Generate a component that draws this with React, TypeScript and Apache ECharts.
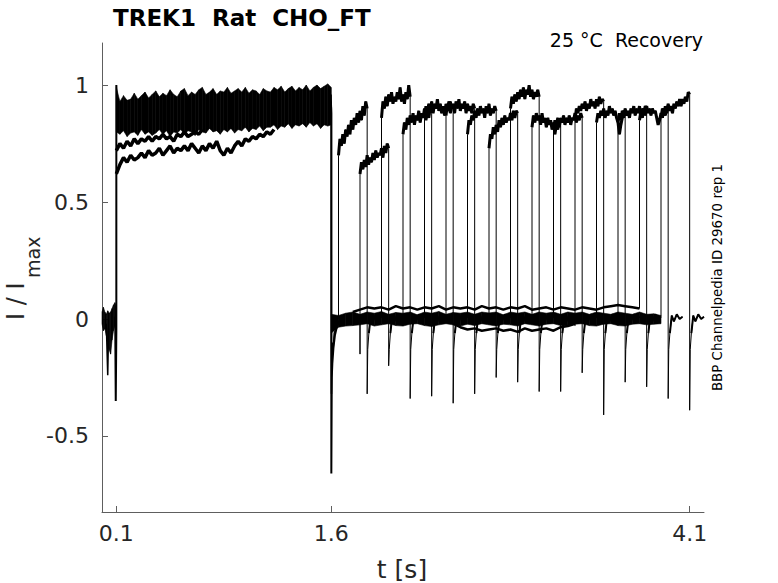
import React, { useEffect, useRef } from 'react';
import * as echarts from 'echarts';

// x ticks / y ticks shown on the axes
const xTicks = [0.1, 1.6, 4.1];
const yTicks = [-0.5, 0, 0.5, 1];

// holding current before the first pulse (0 .. 0.1 s, 10 ms apart)
const preStep = 0.01;
const preBandHi = [0.03, 0.05, 0.03, 0.02, 0.035, 0.025, 0.03, 0.045, 0.06, 0.07, 0.05];
const preBandLo = [-0.02, -0.05, -0.04, -0.07, -0.1, -0.13, -0.15, -0.09, -0.05, -0.03, -0.04];
const preDipTimes = [0.03, 0.04, 0.046];
const preDipValues = [-0.02, -0.24, -0.04];
const onsetTimes = [0.092, 0.096, 0.1, 0.1, 0.104];
const onsetValues = [0.01, -0.35, -0.05, 1.0, 0.93];

// first pulse 0.1 .. 1.6 s, 25 ms apart: dense band and two slower sweeps
const pulse1Start = 0.1;
const pulse1Step = 0.025;
const pulse1Upper = [
  0.99, 0.93, 0.955, 0.935, 0.94, 0.965, 0.94, 0.955, 0.97, 0.945,
  0.96, 0.975, 0.95, 0.965, 0.955, 0.98, 0.96, 0.95, 0.975, 0.985,
  0.955, 0.97, 0.96, 0.98, 0.99, 0.96, 0.97, 0.985, 0.96, 0.975,
  0.97, 0.99, 0.965, 0.975, 0.985, 0.97, 0.99, 0.965, 0.98, 0.975,
  0.96, 0.985, 0.975, 0.97, 0.99, 0.98, 0.995, 0.97, 0.985, 0.995,
  0.975, 0.99, 0.98, 1.0, 0.975, 0.99, 1.0, 0.985, 0.995, 1.005, 0.99,
];
const pulse1Lower = [
  0.8, 0.79, 0.805, 0.78, 0.795, 0.8, 0.785, 0.81, 0.79, 0.8,
  0.785, 0.795, 0.81, 0.79, 0.805, 0.78, 0.8, 0.795, 0.81, 0.79,
  0.805, 0.8, 0.785, 0.81, 0.8, 0.795, 0.815, 0.8, 0.805, 0.79,
  0.81, 0.8, 0.815, 0.795, 0.81, 0.805, 0.82, 0.8, 0.815, 0.81,
  0.825, 0.805, 0.82, 0.82, 0.83, 0.81, 0.825, 0.82, 0.835, 0.815,
  0.83, 0.825, 0.835, 0.82, 0.84, 0.825, 0.835, 0.815, 0.83, 0.825, 0.83,
];
const slowTraceA = [
  0.62, 0.66, 0.69, 0.67, 0.7, 0.68, 0.69, 0.71, 0.69, 0.72,
  0.7, 0.71, 0.73, 0.7, 0.72, 0.74, 0.71, 0.73, 0.72, 0.74,
  0.72, 0.75, 0.73, 0.71, 0.74, 0.72, 0.75, 0.73, 0.76, 0.72,
  0.7, 0.73, 0.71, 0.74, 0.76, 0.74, 0.77, 0.76, 0.78, 0.77,
  0.79, 0.78, 0.8, 0.79, 0.81,
];
const slowTraceB = [
  0.72, 0.75, 0.73, 0.76, 0.74, 0.77, 0.75, 0.77, 0.76, 0.78,
  0.76, 0.78, 0.77, 0.79, 0.77, 0.78, 0.76, 0.79, 0.78, 0.8,
  0.78, 0.79, 0.8, 0.79, 0.81,
];

// end of the first pulse at 1.6 s
const offsetTimes = [1.597, 1.6, 1.6, 1.603, 1.607, 1.615, 1.625, 1.64, 1.66];
const offsetValues = [0.93, 0.88, -0.66, -0.25, -0.19, -0.12, -0.07, -0.03, 0.0];
const offsetTimes2 = [1.598, 1.6, 1.601, 1.606, 1.612, 1.62, 1.635, 1.65];
const offsetValues2 = [0.96, 0.9, -0.32, -0.1, -0.14, -0.06, -0.04, -0.01];

// recovery interval baselines (50 ms apart)
const zeroStart = 1.6;
const zeroStep = 0.05;
const zeroBandHi = [
  0.02, 0.015, 0.025, 0.03, 0.02, 0.03, 0.025, 0.032, 0.02, 0.028,
  0.025, 0.03, 0.018, 0.03, 0.025, 0.032, 0.02, 0.028, 0.025, 0.03,
  0.02, 0.03, 0.026, 0.03, 0.018, 0.03, 0.025, 0.03, 0.02, 0.03,
  0.025, 0.03, 0.02, 0.03, 0.025, 0.03, 0.02, 0.03, 0.025, 0.02,
  0.03, 0.025, 0.02, 0.03, 0.02, 0.022, 0.015,
];
const zeroBandLo = [
  -0.06, -0.035, -0.03, -0.028, -0.025, -0.02, -0.03, -0.025, -0.02, -0.028,
  -0.03, -0.022, -0.02, -0.028, -0.032, -0.025, -0.02, -0.025, -0.03, -0.022,
  -0.028, -0.02, -0.025, -0.03, -0.022, -0.025, -0.03, -0.02, -0.025, -0.03,
  -0.022, -0.02, -0.028, -0.03, -0.022, -0.02, -0.028, -0.03, -0.022, -0.02,
  -0.028, -0.03, -0.022, -0.02, -0.025, -0.022, -0.02,
];
const upperBaseStart = 1.75;
const upperBaseline = [
  0.03, 0.04, 0.05, 0.045, 0.05, 0.04, 0.055, 0.045, 0.05, 0.04,
  0.05, 0.045, 0.055, 0.04, 0.05, 0.045, 0.05, 0.04, 0.055, 0.045,
  0.05, 0.04, 0.05, 0.045, 0.055, 0.04, 0.045, 0.05, 0.04, 0.05,
  0.045, 0.04, 0.05, 0.045, 0.04, 0.05, 0.055, 0.06, 0.055, 0.05, 0.045,
];
const lowerBaseStart = 2.45;
const lowerBaseline = [
  -0.02, -0.035, -0.045, -0.04, -0.05, -0.045, -0.04, -0.05, -0.045,
  -0.055, -0.04, -0.05, -0.045, -0.04, -0.05, -0.035, -0.03, -0.02,
];

// second pulses, one per sweep, values 10 ms apart
const pulse2Starts = [1.65, 1.8, 1.95, 2.1, 2.25, 2.4, 2.55, 2.7, 2.85, 3.0, 3.15, 3.3, 3.45, 3.6, 3.75, 3.9];
const pulse2Ends = [1.85, 2.0, 2.15, 2.3, 2.45, 2.6, 2.75, 2.9, 3.05, 3.2, 3.35, 3.5, 3.65, 3.8, 3.95, 4.1];
const gapLevels = [0.0, 0.01, 0.01, 0.0, 0.01, 0.0, 0.01, 0.0, 0.01, 0.0, 0.01, -0.03, 0.01, 0.0, 0.045, 0.01];
const startDips = [0, -0.15, 0, 0, 0, 0, 0, 0, 0, 0, 0, 0, 0, 0, 0, 0];
const pulse2Values = [
  [0.7, 0.77, 0.74, 0.79, 0.75, 0.81, 0.78, 0.83, 0.79, 0.85, 0.81, 0.86, 0.83, 0.88, 0.84, 0.89, 0.85, 0.91, 0.87, 0.93, 0.9],
  [0.62, 0.67, 0.64, 0.68, 0.65, 0.7, 0.66, 0.69, 0.67, 0.71, 0.68, 0.72, 0.69, 0.71, 0.7, 0.73, 0.69, 0.74, 0.71, 0.75, 0.73],
  [0.86, 0.93, 0.9, 0.95, 0.91, 0.96, 0.93, 0.97, 0.92, 0.95, 0.93, 0.97, 0.94, 0.99, 0.93, 0.96, 0.92, 0.97, 0.94, 1.0, 0.95],
  [0.79, 0.84, 0.81, 0.86, 0.83, 0.87, 0.84, 0.88, 0.83, 0.87, 0.85, 0.89, 0.84, 0.88, 0.86, 0.9, 0.85, 0.89, 0.86, 0.9, 0.88],
  [0.86, 0.91, 0.88, 0.92, 0.89, 0.93, 0.88, 0.92, 0.9, 0.94, 0.89, 0.92, 0.88, 0.91, 0.87, 0.92, 0.89, 0.93, 0.88, 0.91, 0.9],
  [0.87, 0.92, 0.89, 0.93, 0.9, 0.92, 0.88, 0.93, 0.9, 0.94, 0.89, 0.92, 0.9, 0.93, 0.88, 0.92, 0.89, 0.91, 0.88, 0.92, 0.9],
  [0.79, 0.85, 0.83, 0.87, 0.85, 0.89, 0.86, 0.9, 0.87, 0.91, 0.88, 0.9, 0.86, 0.91, 0.88, 0.92, 0.87, 0.9, 0.88, 0.91, 0.89],
  [0.73, 0.79, 0.77, 0.82, 0.79, 0.83, 0.8, 0.85, 0.82, 0.86, 0.83, 0.87, 0.84, 0.86, 0.85, 0.88, 0.85, 0.89, 0.86, 0.89, 0.88],
  [0.9, 0.95, 0.92, 0.96, 0.93, 0.97, 0.94, 0.98, 0.95, 0.99, 0.94, 0.98, 0.96, 1.0, 0.95, 0.98, 0.94, 0.97, 0.95, 0.98, 0.95],
  [0.82, 0.87, 0.84, 0.88, 0.85, 0.87, 0.83, 0.88, 0.84, 0.86, 0.82, 0.86, 0.83, 0.85, 0.81, 0.84, 0.79, 0.83, 0.81, 0.85, 0.84],
  [0.81, 0.85, 0.83, 0.86, 0.82, 0.86, 0.84, 0.87, 0.83, 0.86, 0.84, 0.87, 0.83, 0.86, 0.85, 0.88, 0.84, 0.87, 0.85, 0.88, 0.86],
  [0.85, 0.9, 0.88, 0.91, 0.89, 0.92, 0.9, 0.93, 0.89, 0.92, 0.9, 0.94, 0.91, 0.93, 0.9, 0.94, 0.91, 0.95, 0.92, 0.94, 0.93],
  [0.84, 0.88, 0.86, 0.89, 0.87, 0.9, 0.86, 0.89, 0.87, 0.91, 0.88, 0.9, 0.87, 0.89, 0.86, 0.84, 0.79, 0.83, 0.86, 0.89, 0.88],
  [0.84, 0.88, 0.85, 0.89, 0.86, 0.9, 0.87, 0.89, 0.86, 0.9, 0.88, 0.91, 0.87, 0.9, 0.88, 0.91, 0.87, 0.9, 0.88, 0.91, 0.9],
  [0.85, 0.89, 0.86, 0.9, 0.87, 0.91, 0.88, 0.9, 0.87, 0.9, 0.88, 0.89, 0.86, 0.83, 0.85, 0.88, 0.86, 0.9, 0.87, 0.91, 0.9],
  [0.86, 0.9, 0.87, 0.91, 0.88, 0.92, 0.89, 0.91, 0.88, 0.92, 0.9, 0.93, 0.91, 0.94, 0.91, 0.94, 0.92, 0.95, 0.93, 0.97, 0.96],
];
const tailSpikes = [-0.32, -0.2, -0.34, -0.33, -0.36, -0.32, -0.25, -0.27, -0.31, -0.31, -0.23, -0.41, -0.27, -0.29, -0.34, -0.39];
const tailOffsets = [0.004, 0.012, 0.025, 0.04, 0.06, 0.08, 0.1];
const tailValues = [-0.13, -0.06, 0.015, -0.01, 0.02, 0.0, 0.01];

const sampled = (start: number, step: number, values: number[]) =>
  values.map((v, i) => [start + step * i, v]);
const paired = (times: number[], values: number[]) => times.map((t, i) => [t, values[i]]);

const lineSeries = (data: number[][], width: number) => ({
  type: 'line',
  data,
  showSymbol: false,
  symbol: 'none',
  silent: true,
  z: 3,
  lineStyle: { color: '#000', width },
});

const bandSeries = (start: number, step: number, lo: number[], hi: number[]) => {
  const rows = lo.map((v, i) => [start + step * i, v, hi[i]]);
  return {
    type: 'custom',
    data: rows,
    silent: true,
    z: 2,
    encode: { x: 0, y: [1, 2] },
    renderItem: (params: any, api: any) => {
      const i = params.dataIndex;
      if (i >= rows.length - 1) return null;
      const a = rows[i];
      const b = rows[i + 1];
      return {
        type: 'polygon',
        shape: {
          points: [
            api.coord([a[0], a[2]]),
            api.coord([b[0], b[2]]),
            api.coord([b[0], b[1]]),
            api.coord([a[0], a[1]]),
          ],
        },
        style: { fill: '#000', stroke: '#000', lineWidth: 0.6 },
      };
    },
  };
};

const App: React.FC = () => {
  const chartRef = useRef<HTMLDivElement>(null);

  useEffect(() => {
    if (!chartRef.current) return;
    const chart = echarts.init(chartRef.current, undefined, { renderer: 'svg' });

    const sweeps: any[] = [];
    pulse2Starts.forEach((start, k) => {
      const end = pulse2Ends[k];
      const vals = pulse2Values[k];
      const body = vals.map((v, j) => [start + ((end - start) * j) / (vals.length - 1), v]);
      const pts: number[][] = [[start, gapLevels[k]]];
      if (startDips[k] < 0) pts.push([start, startDips[k]]);
      pts.push(...body);
      pts.push([end, tailSpikes[k]]);
      tailOffsets.forEach((dt, j) => pts.push([end + dt, tailValues[j]]));
      sweeps.push(lineSeries(pts, 1));
      sweeps.push(lineSeries(body, 3));
      sweeps.push(lineSeries(paired(tailOffsets.slice(1).map((dt) => end + dt), tailValues.slice(1)), 2));
    });

    const axisColor = '#5e5e5e';
    const labelStyle = { color: '#262626', fontSize: 22, fontFamily: 'DejaVu Sans' };

    chart.setOption({
      animation: false,
      grid: { left: 102, top: 43, width: 602, height: 469 },
      xAxis: {
        type: 'value',
        min: 0,
        max: 4.2,
        axisLine: { onZero: false, lineStyle: { color: axisColor, width: 1 } },
        axisTick: { inside: true, length: 6, customValues: xTicks, lineStyle: { color: axisColor } },
        axisLabel: { ...labelStyle, margin: 10, customValues: xTicks },
        splitLine: { show: false },
      },
      yAxis: {
        type: 'value',
        min: -0.825,
        max: 1.18,
        axisLine: { show: true, onZero: false, lineStyle: { color: axisColor, width: 1 } },
        axisTick: { show: true, inside: true, length: 6, customValues: yTicks, lineStyle: { color: axisColor } },
        axisLabel: { ...labelStyle, margin: 13, customValues: yTicks },
        splitLine: { show: false },
      },
      graphic: [
        {
          type: 'text',
          x: 113,
          y: 18,
          style: {
            text: 'TREK1  Rat  CHO_FT',
            fontSize: 23,
            fontWeight: 'bold',
            fontFamily: 'DejaVu Sans',
            fill: '#000',
            align: 'left',
            verticalAlign: 'middle',
          },
        },
        {
          type: 'text',
          x: 703,
          y: 40,
          style: {
            text: '25 °C  Recovery',
            fontSize: 19,
            fontFamily: 'DejaVu Sans',
            fill: '#000',
            align: 'right',
            verticalAlign: 'middle',
          },
        },
        {
          type: 'text',
          x: 717,
          y: 277.5,
          rotation: Math.PI / 2,
          style: {
            text: 'BBP Channelpedia ID 29670 rep 1',
            fontSize: 13.4,
            fontFamily: 'DejaVu Sans',
            fill: '#000',
            align: 'center',
            verticalAlign: 'middle',
          },
        },
        {
          type: 'text',
          x: 16,
          y: 320,
          rotation: Math.PI / 2,
          style: {
            text: 'I / I',
            fontSize: 24,
            fontFamily: 'DejaVu Sans',
            fill: '#262626',
            align: 'left',
            verticalAlign: 'middle',
          },
        },
        {
          type: 'text',
          x: 32.5,
          y: 278,
          rotation: Math.PI / 2,
          style: {
            text: 'max',
            fontSize: 19,
            fontFamily: 'DejaVu Sans',
            fill: '#262626',
            align: 'left',
            verticalAlign: 'middle',
          },
        },
        {
          type: 'text',
          x: 402,
          y: 569,
          style: {
            text: 't [s]',
            fontSize: 25,
            fontFamily: 'DejaVu Sans',
            fill: '#262626',
            align: 'center',
            verticalAlign: 'middle',
          },
        },
      ],
      series: [
        bandSeries(0, preStep, preBandLo, preBandHi),
        bandSeries(pulse1Start, pulse1Step, pulse1Lower, pulse1Upper),
        bandSeries(zeroStart, zeroStep, zeroBandLo, zeroBandHi),
        lineSeries(paired(preDipTimes, preDipValues), 1.5),
        lineSeries(paired(onsetTimes, onsetValues), 2),
        lineSeries(sampled(pulse1Start, pulse1Step, slowTraceA), 3.5),
        lineSeries(sampled(pulse1Start, pulse1Step, slowTraceB), 3.5),
        lineSeries(paired(offsetTimes, offsetValues), 2),
        lineSeries(paired(offsetTimes2, offsetValues2), 1.5),
        lineSeries(sampled(upperBaseStart, zeroStep, upperBaseline), 2.5),
        lineSeries(sampled(lowerBaseStart, zeroStep, lowerBaseline), 2.5),
        ...sweeps,
      ],
    });

    return () => {
      chart.dispose();
    };
  }, []);

  return (
    <div
      ref={chartRef}
      style={{ position: 'fixed', left: 0, top: 0, width: 778, height: 583, background: '#fff' }}
    />
  );
};

export default App;
